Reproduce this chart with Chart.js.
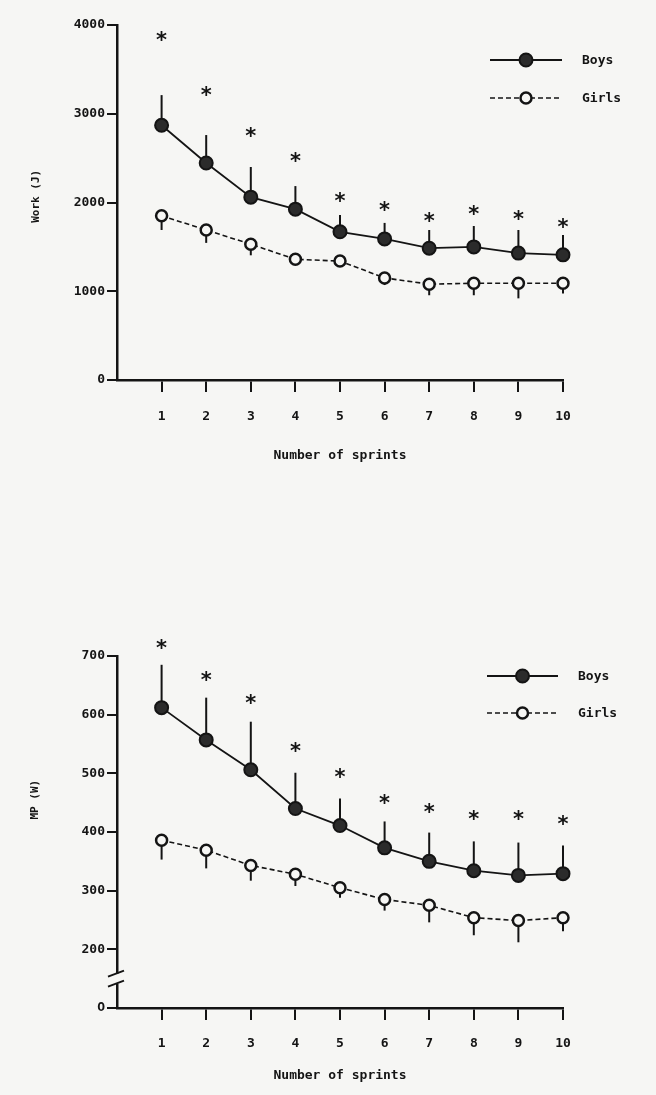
<!DOCTYPE html>
<html lang="en">
<head>
    <meta charset="UTF-8">
    <title>Repeated sprints: Boys vs Girls</title>
    <script src="https://cdn.jsdelivr.net/npm/chart.js"></script>
    <style>
        body {
            margin: 0;
            background-color: #f6f6f4;
        }
        .chart-box {
            position: relative;
            width: 656px;
        }
        canvas {
            display: block;
        }
    </style>
</head>
<body>
    <!-- Work per sprint -->
    <div class="chart-box"><canvas id="workChart" width="656" height="480"></canvas></div>
    <!-- Mean power per sprint -->
    <div class="chart-box"><canvas id="powerChart" width="656" height="615"></canvas></div>

    <script>
        // Sprint numbers (x axis)
        const sprints = [1, 2, 3, 4, 5, 6, 7, 8, 9, 10];

        // Work (J): means and SDs
        const workBoys = [2870, 2445, 2060, 1925, 1670, 1590, 1485, 1500, 1430, 1410];
        const workBoysSD = [340, 315, 340, 260, 190, 180, 205, 235, 260, 225];
        const workGirls = [1850, 1690, 1530, 1360, 1340, 1150, 1080, 1090, 1090, 1090];
        const workGirlsSD = [160, 145, 125, 40, 40, 80, 125, 135, 170, 115];
        // where the significance asterisks sit (J)
        const workStars = [3885, 3270, 2805, 2525, 2075, 1970, 1850, 1925, 1870, 1780];
        const workTicks = [0, 1000, 2000, 3000, 4000];

        // Mean power (W)
        const mpBoys = [612, 557, 506, 440, 411, 373, 350, 334, 326, 329];
        const mpBoysSD = [73, 72, 82, 61, 46, 45, 49, 50, 56, 48];
        const mpGirls = [386, 369, 343, 328, 305, 285, 275, 254, 249, 254];
        const mpGirlsSD = [33, 31, 26, 20, 17, 19, 29, 30, 37, 23];
        const mpStars = [722, 668, 629, 546, 502, 458, 442, 430, 430, 422];
        // the bottom of the axis is broken: the 100 position is labelled 0
        const mpTicks = [100, 200, 300, 400, 500, 600, 700];

        const INK = "#141414";
        const PAPER = "#f6f6f4";
        const MONO = "'DejaVu Sans Mono', monospace";

        function points(values) {
            return values.map((v, i) => ({ x: sprints[i], y: v }));
        }

        // vertical one-sided error bars, drawn under the markers
        const errorBars = {
            id: "errorBars",
            beforeDatasetsDraw(chart) {
                const ctx = chart.ctx;
                const xs = chart.scales.x, ys = chart.scales.y;
                ctx.save();
                ctx.strokeStyle = INK;
                ctx.lineWidth = 2;
                chart.data.datasets.forEach(ds => {
                    ds.data.forEach((p, i) => {
                        const px = xs.getPixelForValue(p.x);
                        ctx.beginPath();
                        ctx.moveTo(px, ys.getPixelForValue(p.y));
                        ctx.lineTo(px, ys.getPixelForValue(p.y + ds.errorDir * ds.sd[i]));
                        ctx.stroke();
                    });
                });
                ctx.restore();
            }
        };

        // asterisks marking the boys/girls difference
        const stars = {
            id: "stars",
            afterDatasetsDraw(chart, args, opts) {
                const ctx = chart.ctx;
                const xs = chart.scales.x, ys = chart.scales.y;
                ctx.save();
                ctx.fillStyle = INK;
                ctx.font = "bold 21px 'DejaVu Sans', sans-serif";
                ctx.textAlign = "center";
                ctx.textBaseline = "alphabetic";
                opts.values.forEach((v, i) => {
                    ctx.fillText("*", xs.getPixelForValue(sprints[i]), ys.getPixelForValue(v) + 12);
                });
                ctx.restore();
            }
        };

        // legend: line with the marker in the middle, then the label
        const lineKey = {
            id: "lineKey",
            afterDraw(chart, args, opts) {
                const ctx = chart.ctx;
                ctx.save();
                chart.data.datasets.forEach((ds, i) => {
                    const y = opts.y + i * opts.gap;
                    const x0 = opts.x, x1 = opts.x + opts.width;
                    const mid = (x0 + x1) / 2;
                    ctx.strokeStyle = INK;
                    ctx.lineWidth = ds.borderWidth;
                    ctx.setLineDash(ds.borderDash || []);
                    ctx.beginPath();
                    ctx.moveTo(x0, y);
                    ctx.lineTo(x1, y);
                    ctx.stroke();
                    ctx.setLineDash([]);
                    ctx.beginPath();
                    ctx.arc(mid, y, ds.pointRadius, 0, Math.PI * 2);
                    ctx.fillStyle = ds.pointBackgroundColor;
                    ctx.fill();
                    ctx.lineWidth = ds.pointBorderWidth;
                    ctx.stroke();
                    ctx.fillStyle = INK;
                    ctx.font = "bold 13px " + MONO;
                    ctx.textAlign = "left";
                    ctx.textBaseline = "middle";
                    ctx.fillText(ds.label, opts.textX, y + 1);
                });
                ctx.restore();
            }
        };

        // rotated y-axis title
        const yTitle = {
            id: "yTitle",
            afterDraw(chart, args, opts) {
                const ctx = chart.ctx;
                ctx.save();
                ctx.translate(opts.x, chart.scales.y.getPixelForValue(opts.at));
                ctx.rotate(-Math.PI / 2);
                ctx.fillStyle = INK;
                ctx.font = "bold 11px " + MONO;
                ctx.textAlign = "center";
                ctx.textBaseline = "middle";
                ctx.fillText(opts.text, 0, 0);
                ctx.restore();
            }
        };

        // "//" break on the MP axis
        const axisBreak = {
            id: "axisBreak",
            afterDraw(chart, args, opts) {
                if (!opts.at) return;
                const ctx = chart.ctx;
                const x = chart.chartArea.left;
                const y = chart.scales.y.getPixelForValue(opts.at);
                ctx.save();
                ctx.fillStyle = PAPER;
                ctx.fillRect(x - 3, y - 5, 6, 10);
                ctx.strokeStyle = INK;
                ctx.lineWidth = 2;
                [-5, 5].forEach(d => {
                    ctx.beginPath();
                    ctx.moveTo(x - 9, y + d + 3);
                    ctx.lineTo(x + 7, y + d - 3);
                    ctx.stroke();
                });
                ctx.restore();
            }
        };

        function makeChart(id, cfg) {
            const datasets = [
                {
                    label: "Boys",
                    data: points(cfg.boys),
                    sd: cfg.boysSD,
                    errorDir: 1,
                    borderColor: INK,
                    borderWidth: 1.8,
                    pointRadius: 6.5,
                    pointBackgroundColor: "#2b2b2b",
                    pointBorderColor: INK,
                    pointBorderWidth: 2,
                    tension: 0,
                    clip: false
                },
                {
                    label: "Girls",
                    data: points(cfg.girls),
                    sd: cfg.girlsSD,
                    errorDir: -1,
                    borderColor: INK,
                    borderWidth: 1.6,
                    borderDash: [5, 3],
                    pointRadius: 5.5,
                    pointBackgroundColor: PAPER,
                    pointBorderColor: INK,
                    pointBorderWidth: 2.5,
                    tension: 0,
                    clip: false
                }
            ];

            const textFont = { family: MONO, size: 13, weight: "bold" };

            return new Chart(document.getElementById(id), {
                type: "line",
                data: { datasets },
                plugins: [errorBars, stars, lineKey, yTitle, axisBreak],
                options: {
                    responsive: false,
                    animation: false,
                    layout: { padding: { top: cfg.top, right: 93, left: 0, bottom: 0 } },
                    plugins: {
                        legend: { display: false },
                        tooltip: { enabled: false },
                        stars: { values: cfg.stars },
                        lineKey: cfg.key,
                        yTitle: cfg.yTitle,
                        axisBreak: { at: cfg.breakAt }
                    },
                    scales: {
                        x: {
                            type: "linear",
                            min: 0,
                            max: 10,
                            afterBuildTicks: s => { s.ticks = sprints.map(v => ({ value: v })); },
                            afterFit: s => { s.height = cfg.xHeight; },
                            grid: { drawOnChartArea: false, drawTicks: true, tickLength: 12, color: INK, lineWidth: 2 },
                            border: { color: INK, width: 2.5 },
                            ticks: { color: INK, font: textFont, padding: cfg.xTickPad, maxRotation: 0, autoSkip: false },
                            title: {
                                display: true,
                                text: "Number of sprints",
                                color: INK,
                                font: textFont,
                                padding: { top: 0, bottom: cfg.titlePad }
                            }
                        },
                        y: {
                            min: cfg.yTicks[0],
                            max: cfg.yTicks[cfg.yTicks.length - 1],
                            afterBuildTicks: s => { s.ticks = cfg.yTicks.map(v => ({ value: v })); },
                            afterFit: s => { s.width = 117; },
                            grid: { drawOnChartArea: false, drawTicks: true, tickLength: 10, color: INK, lineWidth: 2 },
                            border: { color: INK, width: 2.5 },
                            ticks: {
                                color: INK,
                                font: textFont,
                                padding: 2,
                                callback: cfg.yLabel
                            }
                        }
                    }
                }
            });
        }

        makeChart("workChart", {
            boys: workBoys, boysSD: workBoysSD,
            girls: workGirls, girlsSD: workGirlsSD,
            stars: workStars, yTicks: workTicks,
            top: 25, xHeight: 100, xTickPad: 17, titlePad: 17,
            key: { x: 490, y: 60, width: 72, gap: 38, textX: 582 },
            yTitle: { text: "Work (J)", x: 36, at: 2070 },
            breakAt: null,
            yLabel: v => String(v)
        });

        makeChart("powerChart", {
            boys: mpBoys, boysSD: mpBoysSD,
            girls: mpGirls, girlsSD: mpGirlsSD,
            stars: mpStars, yTicks: mpTicks,
            top: 176, xHeight: 87, xTickPad: 16, titlePad: 12,
            key: { x: 487, y: 196, width: 71, gap: 37, textX: 578 },
            yTitle: { text: "MP (W)", x: 35, at: 455 },
            breakAt: 150,
            yLabel: v => (v === 100 ? "O" : String(v))
        });
    </script>
</body>
</html>
